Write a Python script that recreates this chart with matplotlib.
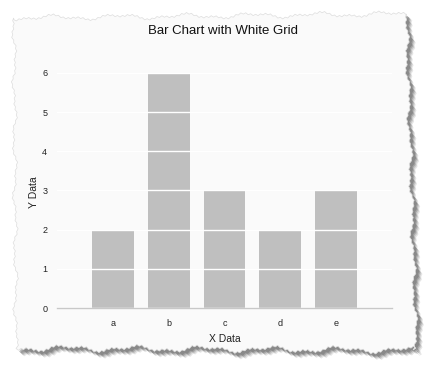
import numpy as np
import matplotlib
matplotlib.use("Agg")
import matplotlib.pyplot as plt
from matplotlib.patches import Polygon

categories = ["a", "b", "c", "d", "e"]
values = [2, 6, 3, 2, 3]
yticks = [0, 1, 2, 3, 4, 5, 6]

plt.rcParams['font.family'] = ['Liberation Sans', 'DejaVu Sans']

W, H = 429, 372
fig = plt.figure(figsize=(W / 100, H / 100), dpi=100)
fig.patch.set_facecolor("white")

# torn-paper background (decorative)
def edge(p0, p1, n, amp, phase):
    t = np.linspace(0, 1, n)
    x = p0[0] + (p1[0] - p0[0]) * t
    y = p0[1] + (p1[1] - p0[1]) * t
    d = np.array([p1[1] - p0[1], -(p1[0] - p0[0])], dtype=float)
    d /= np.hypot(*d)
    j = amp * (0.6 * np.sin(t * 37 + phase) + 0.4 * np.sin(t * 91 + 2 * phase)
               + 0.5 * ((np.arange(n) % 2) - 0.5))
    return np.column_stack([x + d[0] * j, y + d[1] * j])

# corners in pixel coords, origin bottom-left
c = [(16, 24), (14, 354), (406, 358), (416, 22)]
pts = np.vstack([edge(c[0], c[1], 120, 2.5, 0.3),
                 edge(c[1], c[2], 160, 3.0, 1.1),
                 edge(c[2], c[3], 120, 2.5, 2.2),
                 edge(c[3], c[0], 160, 3.5, 0.7)])
for off, a in [((6, -6), 0.15), ((5, -5), 0.2), ((4, -4), 0.3), ((3, -3), 0.35)]:
    fig.patches.append(Polygon((pts + np.array(off)) / [W, H], closed=True,
                               transform=fig.transFigure, facecolor="#555555",
                               edgecolor="none", alpha=a, zorder=-3))
fig.patches.append(Polygon(pts / [W, H], closed=True, transform=fig.transFigure,
                           facecolor="#fafafa", edgecolor="#dddddd", linewidth=0.5, zorder=-2))

# axes: x from 57 to 392 px, y=0 at 308 px from top, 39.2 px per unit
left, right = 57, 392
y0 = H - 308
unit = 39.2
ytop = 6.3
ax = fig.add_axes([left / W, y0 / H, (right - left) / W, ytop * unit / H])
ax.set_facecolor("none")
x = np.arange(len(categories))
ax.bar(x, values, width=0.75, color="#bfbfbf", zorder=2)
ax.set_xlim(-1, 5)
ax.set_ylim(0, ytop)
ax.set_yticks(yticks)
ax.set_xticks(x)
ax.set_xticklabels(categories)
ax.yaxis.grid(True, color="white", linewidth=1.0, zorder=3)
ax.set_axisbelow(False)
for s in ["top", "right", "left"]:
    ax.spines[s].set_visible(False)
ax.spines["bottom"].set_color("#c8c8c8")
ax.spines["bottom"].set_linewidth(1.0)
ax.tick_params(axis="both", length=0, labelsize=6.5, colors="#222222")
ax.tick_params(axis="y", pad=7)
ax.tick_params(axis="x", pad=8)
ax.set_xlabel("X Data", fontsize=7.5, color="#222222", labelpad=4)
ax.set_ylabel("Y Data", fontsize=7.5, color="#222222")
ax.yaxis.set_label_coords(-0.055, 0.47)
fig.text(223 / W, 1 - 31 / H, "Bar Chart with White Grid", ha="center", va="center",
         fontsize=9.5, color="#111111")

fig.savefig("out.png", dpi=100)
